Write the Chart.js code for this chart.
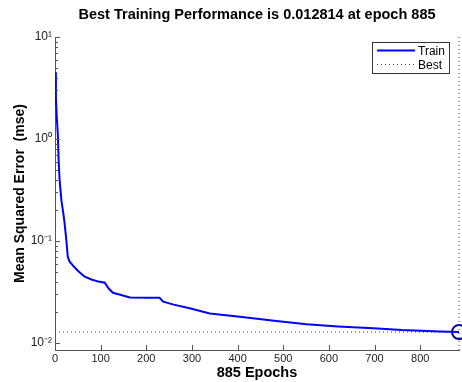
<!DOCTYPE html>
<html>
<head>
<meta charset="utf-8">
<script src="https://cdn.jsdelivr.net/npm/chart.js@4.4.1/dist/chart.umd.min.js"></script>
<style>
  html, body { margin: 0; padding: 0; background: #fff; }
  #wrap { width: 462px; height: 382px; }
</style>
</head>
<body>
<div id="wrap"><canvas id="perfChart" width="462" height="382"></canvas></div>
<script>
// training record
const epochs = [0, 2, 4, 6, 8, 10, 14, 18, 21, 25, 28, 32, 40, 50, 65, 80, 95, 109, 118, 127,
  145, 164, 200, 229, 237, 260, 295, 339, 405, 480, 551, 620, 697, 760, 843, 885];
const trainMse = [4.5, 2.5, 1.6, 1.15, 0.62, 0.40, 0.25, 0.19, 0.15, 0.10, 0.070, 0.0627, 0.057,
  0.0512, 0.0447, 0.042, 0.040, 0.039, 0.034, 0.0311, 0.0296, 0.028, 0.0278, 0.0278, 0.0254,
  0.0238, 0.0219, 0.0195, 0.0181, 0.0165, 0.01525, 0.0145, 0.01393, 0.0134, 0.0130, 0.012814];
const bestEpoch = 885;
const bestPerf = 0.012814;
const xTicks = [0, 100, 200, 300, 400, 500, 600, 700, 800];
const yMax = 10;
const yMin = bestPerf / 1.5;

const FONT = "'Liberation Sans', Arial, sans-serif";
const supers = { "-": "\u207B", "0": "\u2070", "1": "\u00B9", "2": "\u00B2", "3": "\u00B3" };
function powLabel(v) {
  const e = Math.log10(v);
  if (Math.abs(e - Math.round(e)) > 1e-6) return "";
  return "10" + String(Math.round(e)).split("").map(c => supers[c]).join("");
}

// matlab style ticks pointing into the axes
const insideTicks = {
  id: "insideTicks",
  afterDatasetsDraw(chart) {
    const { ctx, chartArea, scales } = chart;
    ctx.save();
    ctx.strokeStyle = "#555";
    ctx.lineWidth = 1;
    ctx.beginPath();
    scales.y.ticks.forEach(t => {
      const y = Math.round(scales.y.getPixelForValue(t.value)) + 0.5;
      const len = powLabel(t.value) ? 5 : 3;
      ctx.moveTo(chartArea.left, y);
      ctx.lineTo(chartArea.left + len, y);
    });
    scales.x.ticks.forEach(t => {
      const x = Math.round(scales.x.getPixelForValue(t.value)) + 0.5;
      ctx.moveTo(x, chartArea.bottom);
      ctx.lineTo(x, chartArea.bottom - 5);
    });
    ctx.stroke();
    ctx.restore();
  }
};

// boxed legend in the top right corner
const boxLegend = {
  id: "boxLegend",
  afterDraw(chart) {
    const { ctx, chartArea } = chart;
    const items = chart.data.datasets.filter(d => d.inLegend);
    const w = 77, rowH = 14;
    const h = items.length * rowH + 3;
    const x0 = chartArea.right - 10 - w, y0 = chartArea.top + 5;
    ctx.save();
    ctx.fillStyle = "#fff";
    ctx.fillRect(x0, y0, w, h);
    ctx.strokeStyle = "#333";
    ctx.lineWidth = 1;
    ctx.strokeRect(x0 + 0.5, y0 + 0.5, w, h);
    ctx.font = "12px " + FONT;
    ctx.textBaseline = "middle";
    ctx.fillStyle = "#000";
    items.forEach((d, i) => {
      const y = y0 + 8 + i * rowH + 0.5;
      ctx.strokeStyle = d.borderColor;
      ctx.lineWidth = d.borderWidth;
      ctx.setLineDash(d.borderDash || []);
      ctx.beginPath();
      ctx.moveTo(x0 + 5, y);
      ctx.lineTo(x0 + 43, y);
      ctx.stroke();
      ctx.fillText(d.label, x0 + 46, y + 1);
    });
    ctx.restore();
  }
};

const ctx = document.getElementById("perfChart").getContext("2d");
new Chart(ctx, {
  type: "line",
  data: {
    datasets: [
      {
        label: "Train",
        inLegend: true,
        data: epochs.map((e, i) => ({ x: e, y: trainMse[i] })),
        borderColor: "#0000ff",
        borderWidth: 2,
        pointRadius: 0,
        tension: 0,
      },
      {
        label: "Best",
        inLegend: true,
        data: [{ x: 0, y: bestPerf }, { x: bestEpoch, y: bestPerf }],
        borderColor: "#2222ee",
        borderWidth: 1,
        borderDash: [1, 3],
        pointRadius: 0,
      },
      {
        label: "bestEpoch",
        indexAxis: "y",
        data: [{ x: bestEpoch, y: yMin }, { x: bestEpoch, y: yMax }],
        borderColor: "#2222ee",
        borderWidth: 1,
        borderDash: [1, 3],
        pointRadius: 0,
        clip: false,
      },
      {
        label: "bestPoint",
        data: [{ x: bestEpoch, y: bestPerf }],
        showLine: false,
        borderColor: "#0000aa",
        backgroundColor: "rgba(0,0,0,0)",
        borderWidth: 2,
        pointRadius: 7,
        clip: false,
      },
    ],
  },
  options: {
    responsive: false,
    animation: false,
    events: [],
    layout: { autoPadding: false, padding: { left: 0, right: 3, top: 0, bottom: 0 } },
    plugins: {
      legend: { display: false },
      tooltip: { enabled: false },
      title: {
        display: true,
        fullSize: false,
        text: "Best Training Performance is 0.012814 at epoch 885",
        color: "#000",
        font: { size: 14.5, weight: "bold", family: FONT },
        padding: { top: 6, bottom: 13.6 },
      },
    },
    scales: {
      x: {
        type: "linear",
        min: 0,
        max: bestEpoch,
        afterBuildTicks: s => { s.ticks = xTicks.map(v => ({ value: v })); },
        afterFit: s => { s.height = 32; },
        ticks: { color: "#222", padding: 2, maxRotation: 0, font: { size: 11, family: FONT } },
        grid: { display: true, drawOnChartArea: false, drawTicks: false },
        border: { display: true, color: "#555" },
        title: {
          display: true,
          text: "885 Epochs",
          color: "#000",
          font: { size: 14.5, weight: "bold", family: FONT },
          padding: { top: 0, bottom: 0 },
        },
      },
      y: {
        type: "logarithmic",
        min: yMin,
        max: yMax,
        afterBuildTicks: s => {
          s.ticks = s.ticks.filter(t => {
            const m = t.value / Math.pow(10, Math.floor(Math.log10(t.value) + 1e-9));
            return Math.abs(m - Math.round(m)) < 1e-6;
          });
        },
        afterFit: s => { s.width = 55; },
        ticks: {
          color: "#222",
          padding: 3,
          autoSkip: false,
          font: { size: 12, family: FONT },
          callback: v => powLabel(v),
        },
        grid: { display: true, drawOnChartArea: false, drawTicks: false },
        border: { display: true, color: "#555" },
        title: {
          display: true,
          text: "Mean Squared Error  (mse)",
          color: "#000",
          font: { size: 14, weight: "bold", family: FONT },
          padding: { top: 12, bottom: 0 },
        },
      },
    },
  },
  plugins: [insideTicks, boxLegend],
});
</script>
</body>
</html>
